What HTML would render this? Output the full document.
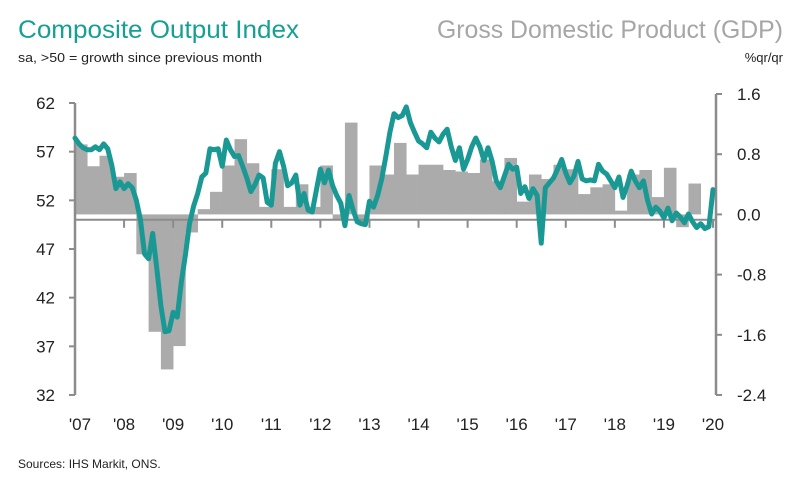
<!DOCTYPE html>
<html><head><meta charset="utf-8">
<style>
html,body{margin:0;padding:0;background:#fff;}
svg{display:block;font-family:"Liberation Sans",sans-serif;}
</style></head>
<body>
<svg id="chart" width="805" height="477" viewBox="0 0 805 477" xmlns="http://www.w3.org/2000/svg">
<text x="18" y="38" font-size="25" fill="#16a094" textLength="281" lengthAdjust="spacingAndGlyphs">Composite Output Index</text>
<text x="783" y="38" font-size="25" fill="#a6a6a6" text-anchor="end" textLength="346" lengthAdjust="spacingAndGlyphs">Gross Domestic Product (GDP)</text>
<text x="18" y="62" font-size="13" fill="#222" textLength="244" lengthAdjust="spacingAndGlyphs">sa, &gt;50 = growth since previous month</text>
<text x="783" y="62" font-size="13" fill="#222" text-anchor="end">%qr/qr</text>
<text x="18" y="468" font-size="12" fill="#222">Sources: IHS Markit, ONS.</text>
<g id="bars"></g>
<g id="axes"></g>
<g id="line"></g>
</svg>
<script>
const years = ["'07","'08","'09","'10","'11","'12","'13","'14","'15","'16","'17","'18","'19","'20"];
const leftTicks = [62,57,52,47,42,37,32];
const rightTicks = ["1.6","0.8","0.0","-0.8","-1.6","-2.4"];
const gdp = [0.93,0.64,0.78,0.5, 0.55,-0.53,-1.56,-2.06, -1.75,-0.24,0.07,0.3, 0.65,1.0,0.68,0.1,
 0.6,0.1,0.4,0.1, 0.65,-0.08,1.22,-0.1, 0.65,0.53,0.95,0.53, 0.66,0.66,0.59,0.57,
 0.55,0.73,0.44,0.75, 0.17,0.53,0.47,0.66, 0.6,0.27,0.36,0.4, 0.05,0.53,0.59,0.23, 0.62,-0.17,0.41,0.0];
const pmi = [58.4,57.8,57.4,57.2,57.2,57.5,57.2,57.8,57.3,55.6,53.2,53.9,
 53.2,53.7,53.3,52.0,50.0,46.5,46.0,48.6,45.0,41.2,38.5,38.6,
 40.5,40.0,43.6,46.4,49.6,51.4,52.7,54.4,54.8,57.3,57.2,57.3,
 55.5,58.2,57.2,56.5,56.6,55.5,54.3,52.9,53.6,54.6,54.3,51.8,
 51.5,55.8,57.0,55.5,53.5,53.8,54.6,51.5,52.7,51.0,50.8,53.0,
 55.2,53.8,55.1,53.5,52.5,51.7,49.4,52.5,51.0,49.8,49.6,49.5,
 51.9,51.3,52.5,54.2,56.5,59.0,60.9,60.5,60.7,61.6,60.0,59.0,
 58.1,57.8,57.4,59.0,58.4,58.0,58.8,59.3,57.5,56.1,57.4,55.2,
 56.2,57.5,58.4,57.5,56.1,57.4,56.0,54.0,53.3,54.5,55.7,55.2,
 55.4,52.7,53.4,52.2,53.2,52.5,47.6,53.3,53.8,54.3,55.2,56.2,
 54.8,53.8,54.5,56.0,54.2,54.0,54.1,54.0,55.7,55.0,54.7,54.0,
 53.3,54.4,52.3,53.5,55.0,54.0,53.3,54.0,52.0,50.6,51.3,50.9,
 50.2,51.2,49.9,50.7,50.3,49.7,50.6,49.8,49.2,49.6,49.1,49.3,53.1];

const NS="http://www.w3.org/2000/svg";
const X0=75, X1=713, AXL=75, AXR=716;
const yL = v => 103 + (62 - v) * (292/30);
const yR = v => 94 + (1.6 - v) * (301/4);
const xMonth = i => X0 + i * (X1 - X0) / 156;
const qW = (X1 - X0) / 52;
const xQ = q => X0 + q * qW;
function mk(tag, attrs, parent){const e=document.createElementNS(NS,tag);for(const k in attrs)e.setAttribute(k,attrs[k]);parent.appendChild(e);return e;}

const gb=document.getElementById('bars');
gdp.forEach((v,q)=>{
  const y0=yR(0), y1=yR(v);
  const r=mk('rect',{x:xQ(q),y:Math.min(y0,y1),width:qW+0.3,height:Math.abs(y1-y0),fill:'#ababab'},gb);
  
  
});

const ga=document.getElementById('axes');
const base=mk('line',{x1:AXL,x2:AXR,y1:yL(50),y2:yL(50),stroke:'#8c8c8c','stroke-width':2},ga);


const la=mk('line',{x1:AXL,x2:AXL,y1:yL(62),y2:yL(32),stroke:'#8c8c8c','stroke-width':2.5},ga);


const ra=mk('line',{x1:AXR,x2:AXR,y1:yR(1.6),y2:yR(-2.4),stroke:'#8c8c8c','stroke-width':2.5},ga);


leftTicks.forEach(v=>{
  mk('line',{x1:AXL-6,x2:AXL,y1:yL(v),y2:yL(v),stroke:'#8c8c8c','stroke-width':2},ga);
  const t=mk('text',{x:55,y:yL(v)+6,'font-size':17,fill:'#222','text-anchor':'end'},ga);
  t.textContent=v;
  
  
});
rightTicks.forEach(s=>{
  const v=parseFloat(s);
  mk('line',{x1:AXR,x2:AXR+6,y1:yR(v),y2:yR(v),stroke:'#8c8c8c','stroke-width':2},ga);
  const t=mk('text',{x:737,y:yR(v)+6,'font-size':17,fill:'#222'},ga);
  t.textContent=s;
  
  
});
years.forEach((s,i)=>{
  const x=X0+i*(X1-X0)/13;
  if(i>0) mk('line',{x1:x,x2:x,y1:yL(50),y2:yL(50)+8,stroke:'#8c8c8c','stroke-width':2},ga);
  const t=mk('text',{x:x+(i===0?5:0),y:430,'font-size':17,fill:'#222','text-anchor':'middle'},ga);
  t.textContent=s;
  
  
});

const gl=document.getElementById('line');
const d=pmi.map((v,i)=>(i?'L':'M')+xMonth(i).toFixed(2)+' '+yL(v).toFixed(2)).join(' ');
const p=mk('path',{d:d,fill:'none',stroke:'#1a9994','stroke-width':5,'stroke-linejoin':'round','stroke-linecap':'round'},gl);


</script>
</body></html>
